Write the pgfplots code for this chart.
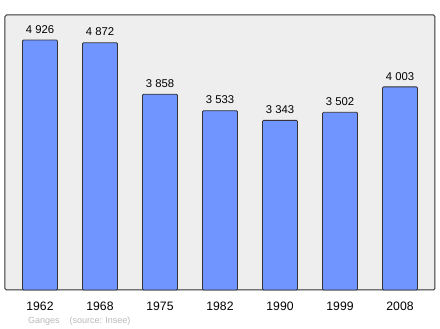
\documentclass[border=0pt]{standalone}
\usepackage{pgfplots}
\pgfplotsset{compat=1.18}
\usepackage{fontspec}
\setmainfont{Liberation Sans}
\definecolor{bgc}{HTML}{EEEEEE}
\definecolor{barc}{HTML}{7095FF}
\definecolor{framec}{HTML}{333333}
\begin{document}
\begin{tikzpicture}[x=1pt,y=1pt]
\begin{axis}[
  name=ax,
  at={(5pt,39pt)}, anchor=south west,
  scale only axis,
  width=430pt, height=275pt,
  xmin=-0.583, xmax=6.583,
  ymin=0, ymax=5420,
  axis background/.style={fill=bgc},
  axis line style={draw=framec, line width=1pt, rounded corners=1.5pt},
  xtick={0,1,2,3,4,5,6},
  xticklabels={1962,1968,1975,1982,1990,1999,2008},
  ytick=\empty,
  major tick length=0pt,
  xticklabel style={font=\fontsize{12.2}{14}\selectfont, yshift=-8pt},
  /pgf/number format/assume math mode=true,
  nodes near coords,
  nodes near coords style={font=\fontsize{11.3}{13}\selectfont, yshift=3pt,
     /pgf/number format/.cd, 1000 sep={\ }, fixed},
  clip=false,
]
\addplot[ybar, bar width=35pt, fill=barc, draw=framec, line width=0.8pt, rounded corners=1pt]
  coordinates {(0,4926) (1,4872) (2,3858) (3,3533) (4,3343) (5,3502) (6,4003)};
\end{axis}
\node[anchor=base west, text=gray!55, font=\fontsize{9}{11}\selectfont, inner sep=0pt] at (28,5) {Ganges\hspace{1.1em}(source: Insee)};
\path (0,0) rectangle (440,329);
\end{tikzpicture}
\end{document}
